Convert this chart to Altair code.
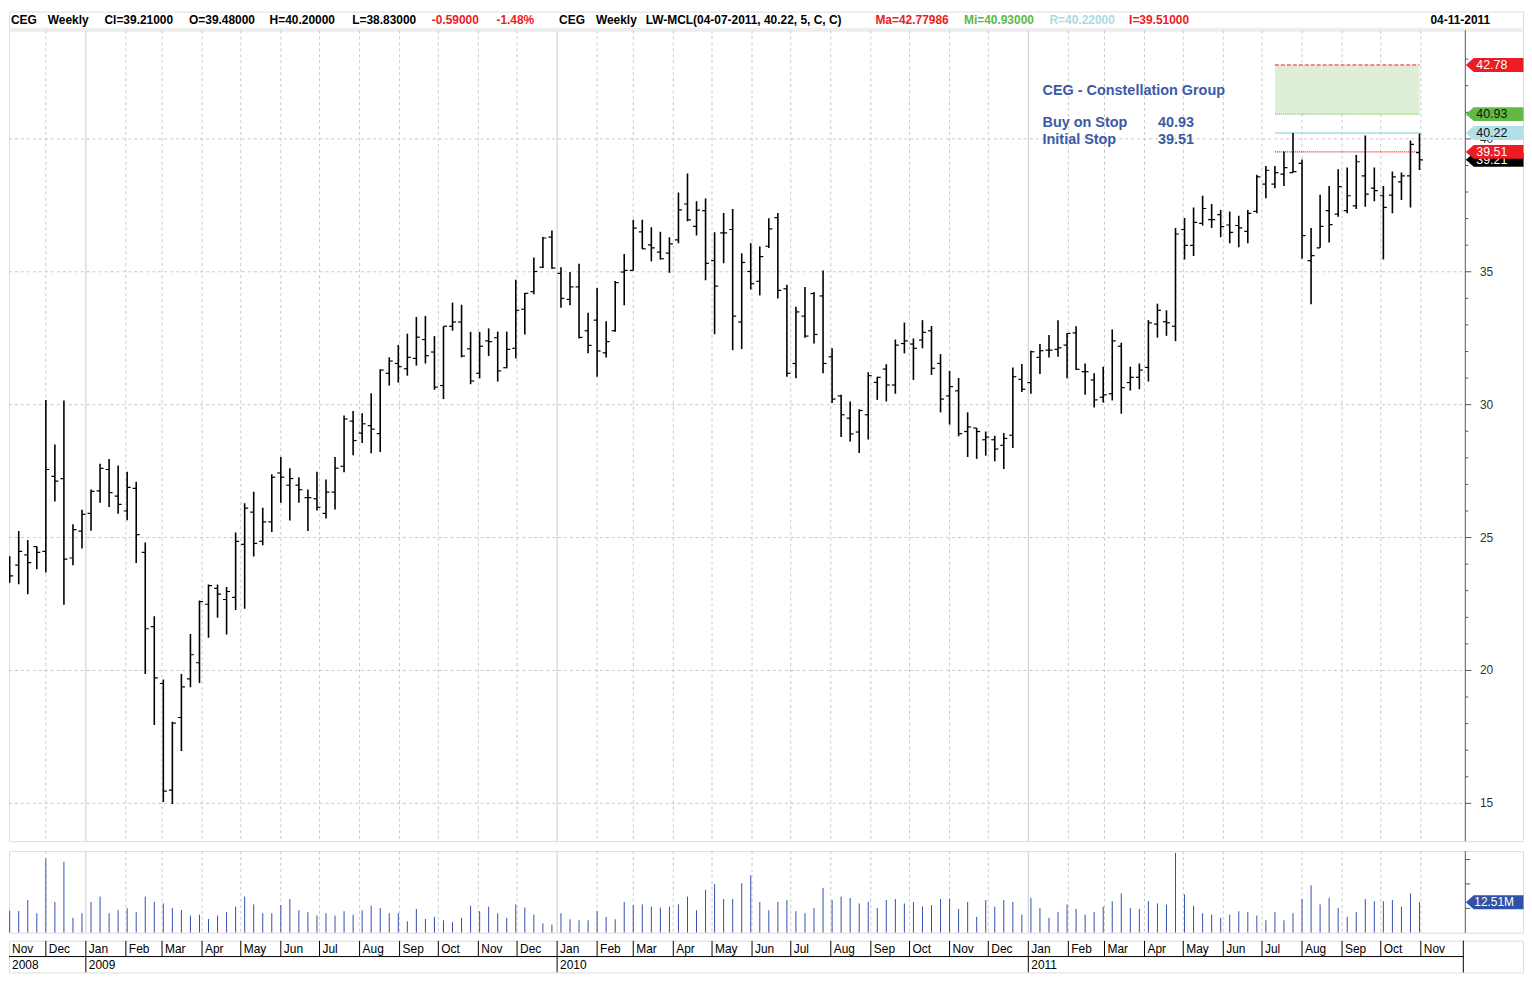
import altair as alt
import pandas as pd

# ---------------- data ----------------
FIRST_WEEK = "2008-11-03"   # weekly bars, one per week (week start)

opens = [23.90, 23.96, 24.35, 24.66, 24.48, 27.30, 27.22, 24.23, 25.24, 25.91,
         26.76, 27.56, 26.56, 26.00, 26.85, 24.44, 21.65, 19.51, 15.50, 18.23,
         19.68, 20.29, 22.49, 23.09, 22.67, 22.75, 24.74, 25.96, 24.86, 25.59,
         27.43, 26.97, 26.97, 26.50, 26.46, 25.91, 26.71, 27.68, 29.38, 28.93,
         29.21, 28.91, 31.18, 31.55, 31.35, 31.74, 32.45, 31.98, 30.72, 32.95,
         33.11, 32.10, 31.18, 32.40, 32.52, 31.39, 32.12, 33.59, 34.25, 35.17,
         36.30, 34.94, 33.96, 34.43, 32.78, 33.18, 31.95, 32.78, 34.99, 35.05,
         36.50, 36.01, 35.74, 35.70, 36.20, 37.55, 36.71, 37.30, 35.42, 36.46,
         36.59, 33.11, 35.01, 34.64, 35.96, 37.04, 34.36, 31.55, 33.33, 34.18,
         34.09, 31.80, 30.33, 29.49, 28.97, 29.62, 30.84, 31.34, 30.74, 32.30,
         32.28, 32.43, 32.78, 31.55, 30.33, 30.52, 28.99, 29.12, 28.68, 28.68,
         28.47, 28.85, 30.95, 30.83, 31.78, 32.05, 32.08, 32.24, 32.70, 31.24,
         30.93, 30.28, 30.41, 32.20, 30.83, 31.03, 31.40, 33.03, 33.12, 32.95,
         36.59, 35.99, 36.82, 36.96, 37.15, 36.76, 36.74, 36.52, 37.27, 38.30,
         38.30, 38.67, 38.73, 39.08, 35.42, 35.90, 37.30, 37.17, 37.30, 37.48,
         38.61, 38.15, 37.86, 37.88, 38.38, 38.61, 39.48]

highs = [24.30, 25.25, 24.91, 24.66, 30.18, 28.50, 30.16, 25.50, 26.05, 26.81,
         27.78, 27.96, 27.71, 27.48, 27.10, 24.81, 22.04, 19.66, 18.07, 19.87,
         21.37, 22.63, 23.23, 23.23, 23.14, 25.19, 26.29, 26.72, 26.12, 27.38,
         28.03, 27.61, 27.27, 26.81, 27.48, 27.18, 28.03, 29.59, 29.76, 29.68,
         30.43, 31.33, 31.78, 32.25, 32.67, 33.30, 33.34, 32.58, 32.95, 33.84,
         33.76, 32.74, 32.74, 32.87, 32.75, 32.75, 34.70, 34.20, 35.54, 36.31,
         36.55, 35.17, 34.99, 35.30, 33.46, 34.39, 33.14, 34.65, 35.67, 36.96,
         36.96, 36.67, 36.51, 36.30, 37.98, 38.70, 37.65, 37.76, 36.49, 37.21,
         37.36, 35.70, 36.07, 35.95, 37.01, 37.21, 34.51, 33.68, 34.43, 34.24,
         35.05, 32.12, 30.37, 30.12, 29.83, 31.22, 31.05, 31.52, 32.45, 33.09,
         32.49, 33.18, 32.96, 31.90, 31.27, 31.00, 29.71, 29.12, 28.99, 28.83,
         28.93, 31.40, 31.53, 32.03, 32.28, 32.62, 33.18, 32.70, 32.95, 31.55,
         31.18, 31.43, 32.83, 32.33, 31.43, 31.55, 33.18, 33.80, 33.55, 36.65,
         37.02, 37.42, 37.86, 37.55, 37.32, 37.27, 37.11, 37.32, 38.65, 38.98,
         38.98, 39.52, 40.22, 39.22, 36.65, 37.90, 38.23, 38.86, 38.92, 39.39,
         40.13, 38.92, 38.23, 38.77, 38.73, 39.94, 40.20]

lows = [23.30, 23.24, 22.87, 23.81, 23.69, 26.36, 22.47, 23.96, 24.59, 25.26,
        26.31, 26.15, 25.90, 25.65, 24.04, 19.87, 17.95, 15.05, 14.98, 16.97,
        19.37, 19.53, 21.23, 21.98, 21.35, 22.27, 22.32, 24.29, 24.71, 25.21,
        26.31, 25.64, 26.31, 25.25, 26.02, 25.72, 26.06, 27.46, 28.10, 28.56,
        28.17, 28.22, 30.72, 30.83, 31.09, 31.47, 31.55, 30.56, 30.21, 32.78,
        31.78, 30.77, 30.99, 31.83, 30.87, 31.37, 31.74, 32.64, 34.15, 35.14,
        35.11, 33.65, 33.74, 32.49, 31.93, 31.05, 31.77, 32.74, 33.74, 35.05,
        35.86, 35.39, 35.46, 34.96, 36.07, 36.90, 36.36, 34.68, 32.65, 35.32,
        32.05, 32.09, 34.33, 34.11, 35.89, 33.99, 31.05, 30.99, 32.52, 32.30,
        31.18, 30.06, 28.78, 28.61, 28.18, 28.69, 30.18, 30.12, 30.41, 31.93,
        30.93, 32.12, 31.12, 29.71, 29.25, 28.81, 28.03, 27.96, 28.08, 27.87,
        27.58, 28.37, 30.48, 30.41, 31.15, 31.77, 31.80, 30.99, 31.30, 30.37,
        29.89, 30.08, 30.16, 29.66, 30.53, 30.58, 30.87, 32.52, 32.59, 32.39,
        35.46, 35.59, 36.74, 36.65, 36.30, 36.07, 35.92, 36.07, 37.20, 37.77,
        38.14, 38.23, 38.73, 35.49, 33.78, 35.90, 36.10, 37.07, 37.20, 37.36,
        37.45, 37.65, 35.46, 37.20, 37.70, 37.42, 38.83]

closes = [23.56, 24.48, 24.06, 24.44, 27.56, 27.12, 24.19, 25.30, 25.87, 26.74,
          27.60, 26.69, 26.25, 26.89, 25.11, 21.57, 19.72, 15.46, 18.02, 19.38,
          20.59, 22.59, 23.19, 22.87, 22.97, 24.86, 26.11, 24.78, 25.59, 27.27,
          27.27, 27.22, 26.80, 26.50, 26.14, 26.71, 27.61, 29.46, 28.65, 29.28,
          29.08, 31.30, 31.64, 31.43, 31.78, 32.54, 31.84, 30.66, 32.95, 33.11,
          31.83, 30.89, 32.20, 32.37, 31.27, 32.08, 33.55, 34.19, 35.01, 36.27,
          35.14, 34.00, 34.43, 32.53, 32.23, 32.02, 32.37, 34.59, 35.05, 36.64,
          35.86, 35.90, 35.49, 36.05, 37.33, 36.95, 37.32, 35.32, 34.46, 36.46,
          33.33, 35.35, 34.55, 35.57, 36.61, 34.30, 31.18, 33.49, 32.58, 32.64,
          31.55, 30.21, 29.62, 28.90, 29.78, 31.09, 31.03, 30.74, 32.24, 32.40,
          32.12, 32.72, 31.37, 30.21, 30.68, 28.91, 29.16, 28.99, 28.78, 28.33,
          28.73, 31.05, 30.58, 31.99, 32.03, 32.05, 32.14, 32.68, 31.33, 31.24,
          30.18, 30.37, 32.40, 30.64, 31.03, 31.30, 33.08, 33.55, 33.08, 36.42,
          35.99, 36.86, 37.38, 36.96, 36.70, 36.48, 36.65, 37.20, 38.57, 38.82,
          38.73, 38.92, 38.77, 36.36, 35.61, 36.71, 36.77, 38.20, 37.86, 39.14,
          37.92, 38.05, 37.42, 38.57, 38.61, 39.79, 39.21]

volumes_m = [9.0, 8.9, 13.4, 8.0, 30.4, 12.6, 29.1, 6.1, 8.0, 12.6,
             14.8, 8.0, 9.2, 10.0, 8.4, 14.8, 12.6, 12.0, 10.1, 9.3,
             7.0, 7.4, 5.6, 7.0, 8.4, 10.7, 14.8, 11.6, 8.0, 8.0,
             11.3, 13.8, 9.2, 8.4, 7.0, 8.0, 7.0, 8.8, 7.4, 9.2,
             11.1, 10.1, 8.0, 8.0, 4.7, 9.7, 5.6, 6.5, 5.1, 4.3,
             6.1, 11.1, 8.8, 10.7, 8.0, 6.1, 11.6, 10.3, 7.4, 3.8,
             3.3, 8.0, 5.5, 5.1, 5.1, 8.8, 6.5, 5.5, 12.6, 11.3,
             11.6, 10.7, 10.3, 10.7, 11.6, 14.8, 9.2, 17.6, 19.9, 13.8,
             13.8, 20.3, 23.5, 12.6, 9.2, 12.6, 13.4, 8.8, 8.0, 10.1,
             18.4, 13.4, 14.8, 14.2, 12.0, 12.6, 10.1, 13.4, 13.8, 12.0,
             12.6, 10.7, 11.3, 13.8, 13.9, 9.7, 12.6, 6.5, 13.4, 10.7,
             13.4, 12.6, 7.4, 14.3, 10.1, 6.1, 8.4, 11.6, 9.7, 7.4,
             8.4, 10.7, 12.9, 16.1, 10.1, 9.7, 12.9, 12.0, 11.5, 32.7,
             15.7, 11.1, 8.0, 7.4, 6.1, 7.4, 8.8, 8.4, 7.0, 5.1,
             8.4, 5.1, 8.0, 13.8, 19.4, 11.6, 14.3, 10.1, 6.5, 8.4,
             13.8, 12.9, 12.9, 13.4, 10.7, 16.1, 12.51]

assert len(opens) == len(highs) == len(lows) == len(closes) == len(volumes_m) == 157

month_first = "2008-11-01"
month_last = "2011-11-01"
year_labels = ["2008", "2009", "2010", "2011"]
year_starts = ["2008-11-01", "2009-01-01", "2010-01-01", "2011-01-01"]

price_levels = [15, 20, 25, 30, 35, 40]
price_level_labels = ["15", "20", "25", "30", "35", "40"]
price_minor = [16, 17, 18, 19, 21, 22, 23, 24, 26, 27, 28, 29, 31, 32, 33, 34,
               36, 37, 38, 39, 41, 42, 43]
vol_ticks = [10, 20, 30]

# LW-MCL study
lw_start = "2011-07-11"
lw_end = "2011-10-31"
lw_max = 42.78
lw_min = 40.93
lw_ref = 40.22
lw_init = 39.51
last_close = 39.21
last_volume = 12.51

tag_values = [39.21, 40.22, 40.93, 42.78, 39.51]
tag_texts = ["39.21", "40.22", "40.93", "42.78", "39.51"]

header_texts = ["CEG", "Weekly", "Cl=39.21000", "O=39.48000", "H=40.20000", "L=38.83000",
                "-0.59000", "-1.48%", "CEG", "Weekly", "LW-MCL(04-07-2011, 40.22, 5, C, C)",
                "Ma=42.77986", "Mi=40.93000", "R=40.22000", "I=39.51000", "04-11-2011"]

note_title = "CEG - Constellation Group"
note_rows = ["Buy on Stop", "Initial Stop"]
note_vals = ["40.93", "39.51"]

# ---------------- styles / layout ----------------
RED = "#ec1c24"
GREEN = "#5cb946"
LBLUE = "#a9dbe6"
BLUE_TXT = "#3a5aa6"
VOL_BLUE = "#3150b0"
GRID = "#c9c9c9"

tag_fills = ["#000000", "#b2e0ea", "#62ba45", RED, RED]
tag_inks = ["#ffffff", "#111111", "#111111", "#ffffff", "#ffffff"]
header_colors = ["#000", "#000", "#000", "#000", "#000", "#000", RED, RED, "#000", "#000",
                 "#000", RED, GREEN, LBLUE, RED, "#000"]
header_x = [2, 39, 96, 181, 262, 345, 425, 490, 553, 590, 640, 871, 960, 1046, 1126, 1429]

W = 1522        # full panel width (frame)
PLOT_R = 1464   # right edge of plotting area inside the panel
HH, PH, VH, AH = 17, 815, 82, 32
px_per_day = 9.085 / 7.0

d0 = pd.Timestamp(FIRST_WEEK) - pd.Timedelta(days=0.7 / px_per_day)
d1 = d0 + pd.Timedelta(days=W / px_per_day)
epoch = pd.Timestamp("1970-01-01")
to_ms = lambda t: float((t - epoch) / pd.Timedelta(milliseconds=1))
xscale = alt.Scale(type="utc", domain=[to_ms(d0), to_ms(d1)])

def X(f):
    return alt.X(f"{f}:T", scale=xscale, axis=None)

p_top = 15 + (802 - 25) / 26.72
p_bot = 15 + (802 - 840) / 26.72
yscale = alt.Scale(domain=[p_bot, p_top], nice=False, zero=False)
def Y(f):
    return alt.Y(f"{f}:Q", scale=yscale, axis=None)

vscale = alt.Scale(domain=[0, VH / 2.45], nice=False, zero=True)
def VY(f):
    return alt.Y(f"{f}:Q", scale=vscale, axis=None)

TAG_PATH = "M-1,0L-0.724,-0.2414L1,-0.2414L1,0.2414L-0.724,0.2414Z"
TAG_SIZE = 58 * 58
TAG_X = 1493.5
FONT = "Liberation Sans"

# ---------------- tables ----------------
dates = pd.date_range(FIRST_WEEK, periods=len(opens), freq="7D")
df = pd.DataFrame({
    "date": [d.strftime("%Y-%m-%d") for d in dates],
    "open": opens, "high": highs, "low": lows, "close": closes, "vol": volumes_m,
})

months = pd.date_range(month_first, month_last, freq="MS")
mdf = pd.DataFrame({
    "m": [d.strftime("%Y-%m-%d") for d in months],
    "lx": [max(d, d0 + pd.Timedelta(hours=1)).strftime("%Y-%m-%dT%H:%M:%SZ") for d in months],
    "label": [d.strftime("%b") for d in months],
    "is_year": [d.month == 1 for d in months],
})
grid_months = mdf.iloc[1:]
mline = grid_months[~grid_months["is_year"]]
yline = grid_months[grid_months["is_year"]]

ydf = pd.DataFrame({
    "label": year_labels,
    "lx": [max(pd.Timestamp(s), d0 + pd.Timedelta(hours=1)).strftime("%Y-%m-%dT%H:%M:%SZ") for s in year_starts],
})

ann = pd.DataFrame({"start": [lw_start], "end": [lw_end], "top": [lw_max], "bot": [lw_min],
                    "ref": [lw_ref], "init": [lw_init]})
levels = pd.DataFrame({"v": price_levels, "t": price_level_labels})
minor = pd.DataFrame({"v": price_minor})
one = pd.DataFrame({"a": [0]})

# ---------------- header ----------------
header_layers = []
for t, c, x in zip(header_texts, header_colors, header_x):
    header_layers.append(
        alt.Chart(pd.DataFrame({"t": [t]})).mark_text(
            align="left", baseline="middle", font=FONT, fontSize=12, fontWeight="bold", color=c
        ).encode(x=alt.value(x), y=alt.value(8.5), text="t:N")
    )
header = alt.layer(*header_layers).properties(width=W, height=HH)

# ---------------- price panel ----------------
hgrid = alt.Chart(levels).mark_rule(color=GRID, strokeDash=[3, 3], strokeWidth=1).encode(
    y=Y("v"), x=alt.value(0), x2=alt.value(PLOT_R))
vgrid = alt.Chart(mline).mark_rule(color=GRID, strokeDash=[3, 3], strokeWidth=1, clip=True).encode(x=X("m"))
ygrid = alt.Chart(yline).mark_rule(color="#d2d2d2", strokeWidth=1.2, clip=True).encode(x=X("m"))

zone = alt.Chart(ann).mark_rect(color="#dfeed6").encode(x=X("start"), x2="end:T", y=Y("top"), y2="bot:Q")
zone_top = alt.Chart(ann).mark_rule(color=RED, strokeDash=[4, 2], strokeWidth=1).encode(
    x=X("start"), x2="end:T", y=Y("top"))
zone_bot = alt.Chart(ann).mark_rule(color="#7cc85e", strokeDash=[1, 1], strokeWidth=1.2).encode(
    x=X("start"), x2="end:T", y=Y("bot"))
ref_line = alt.Chart(ann).mark_rule(color=LBLUE, strokeWidth=1.6).encode(
    x=X("start"), x2="end:T", y=Y("ref"))
init_line = alt.Chart(ann).mark_rule(color=RED, strokeDash=[1, 1], strokeWidth=1.2).encode(
    x=X("start"), x2="end:T", y=Y("init"))

hl = alt.Chart(df).mark_rule(color="#000000", strokeWidth=1.6, clip=True).encode(
    x=X("date"), y=Y("low"), y2="high:Q")
op = alt.Chart(df).mark_rule(color="#000000", strokeWidth=1.2, xOffset=-3.5, clip=True).encode(
    x=X("date"), x2="date:T", y=Y("open"))
cl = alt.Chart(df).mark_rule(color="#000000", strokeWidth=1.2, x2Offset=3.5, clip=True).encode(
    x=X("date"), x2="date:T", y=Y("close"))

divider = alt.Chart(one).mark_rule(color="#555555", strokeWidth=1).encode(
    x=alt.value(PLOT_R), y=alt.value(0), y2=alt.value(PH))
major_ticks = alt.Chart(levels).mark_rule(color="#555555").encode(
    y=Y("v"), x=alt.value(PLOT_R), x2=alt.value(PLOT_R + 6))
minor_ticks = alt.Chart(minor).mark_rule(color="#555555").encode(
    y=Y("v"), x=alt.value(PLOT_R), x2=alt.value(PLOT_R + 3))
axis_labels = alt.Chart(levels).mark_text(align="right", baseline="middle", fontSize=12,
                                          font=FONT, color="#333333").encode(
    y=Y("v"), x=alt.value(1492), text="t:N")

tag_layers = []
for v, t, f, ink in zip(tag_values, tag_texts, tag_fills, tag_inks):
    d = pd.DataFrame({"v": [v], "t": [t]})
    tag_layers.append(alt.Chart(d).mark_point(shape=TAG_PATH, size=TAG_SIZE, filled=True, opacity=1,
                                              color=f, strokeWidth=0).encode(x=alt.value(TAG_X), y=Y("v")))
    tag_layers.append(alt.Chart(d).mark_text(align="left", baseline="middle", fontSize=12.5, font=FONT,
                                             color=ink).encode(x=alt.value(1475), y=Y("v"), text="t:N"))

note_style = dict(align="left", baseline="alphabetic", font=FONT, fontSize=14.5, fontWeight="bold", color=BLUE_TXT)
notes = [
    alt.Chart(one).mark_text(text=note_title, **note_style).encode(x=alt.value(1039), y=alt.value(64.5)),
    alt.Chart(one).mark_text(text=note_rows[0], **note_style).encode(x=alt.value(1039), y=alt.value(97.5)),
    alt.Chart(one).mark_text(text=note_vals[0], **note_style).encode(x=alt.value(1155), y=alt.value(97.5)),
    alt.Chart(one).mark_text(text=note_rows[1], **note_style).encode(x=alt.value(1039), y=alt.value(114)),
    alt.Chart(one).mark_text(text=note_vals[1], **note_style).encode(x=alt.value(1155), y=alt.value(114)),
]

price = alt.layer(hgrid, vgrid, ygrid, zone, zone_top, zone_bot, ref_line, init_line,
                  hl, op, cl, divider, minor_ticks, major_ticks, axis_labels,
                  *tag_layers, *notes).properties(width=W, height=PH)

# ---------------- volume panel ----------------
vdf_ticks = pd.DataFrame({"v": vol_ticks})
vtag = pd.DataFrame({"v": [last_volume], "t": [f"{last_volume:.2f}M"]})
vol_layers = [
    alt.Chart(mline).mark_rule(color=GRID, strokeDash=[3, 3], clip=True).encode(x=X("m")),
    alt.Chart(yline).mark_rule(color="#d2d2d2", strokeWidth=1.2, clip=True).encode(x=X("m")),
    alt.Chart(df).mark_rule(color=VOL_BLUE, strokeWidth=1, clip=True).encode(
        x=X("date"), y=VY("vol"), y2=alt.datum(0)),
    alt.Chart(one).mark_rule(color="#555555").encode(x=alt.value(PLOT_R), y=alt.value(0), y2=alt.value(VH)),
    alt.Chart(vdf_ticks).mark_rule(color="#555555").encode(y=VY("v"), x=alt.value(PLOT_R), x2=alt.value(PLOT_R + 5)),
    alt.Chart(vtag).mark_point(shape=TAG_PATH, size=TAG_SIZE, filled=True, opacity=1, color="#2f52a6",
                               strokeWidth=0).encode(x=alt.value(TAG_X), y=VY("v")),
    alt.Chart(vtag).mark_text(align="left", baseline="middle", fontSize=12, font=FONT, color="#ffffff").encode(
        x=alt.value(1473), y=VY("v"), text="t:N"),
]
volume = alt.layer(*vol_layers).properties(width=W, height=VH)

# ---------------- date axis panel ----------------
ROW = AH / 2
axis_layers = [
    alt.Chart(mline).mark_rule(color="#000000", clip=True).encode(x=X("m"), y=alt.value(0), y2=alt.value(ROW)),
    alt.Chart(yline).mark_rule(color="#000000", clip=True).encode(x=X("m"), y=alt.value(0), y2=alt.value(AH)),
    alt.Chart(one).mark_rule(color="#000000").encode(x=alt.value(0), x2=alt.value(PLOT_R - 2), y=alt.value(ROW)),
    alt.Chart(one).mark_rule(color="#000000").encode(x=alt.value(PLOT_R - 2), y=alt.value(0), y2=alt.value(AH)),
    alt.Chart(mdf).mark_text(align="left", baseline="middle", dx=3, fontSize=12, font=FONT, color="#000000",
                             clip=True).encode(x=X("lx"), y=alt.value(ROW / 2 + 0.5), text="label:N"),
    alt.Chart(ydf).mark_text(align="left", baseline="middle", dx=3, fontSize=12, font=FONT, color="#000000",
                             clip=True).encode(x=X("lx"), y=alt.value(ROW + ROW / 2 + 0.5), text="label:N"),
]
axis_panel = alt.layer(*axis_layers).properties(width=W, height=AH)

top = alt.vconcat(header, price, spacing=0)
bottom = alt.vconcat(volume, axis_panel, spacing=6)
chart = alt.vconcat(top, bottom, spacing=8).properties(padding=0).configure_view(
    stroke="#000000", strokeWidth=1).configure(font=FONT, background="#ffffff")

chart.save("out.html", embed_options={"renderer": "svg", "actions": False})
